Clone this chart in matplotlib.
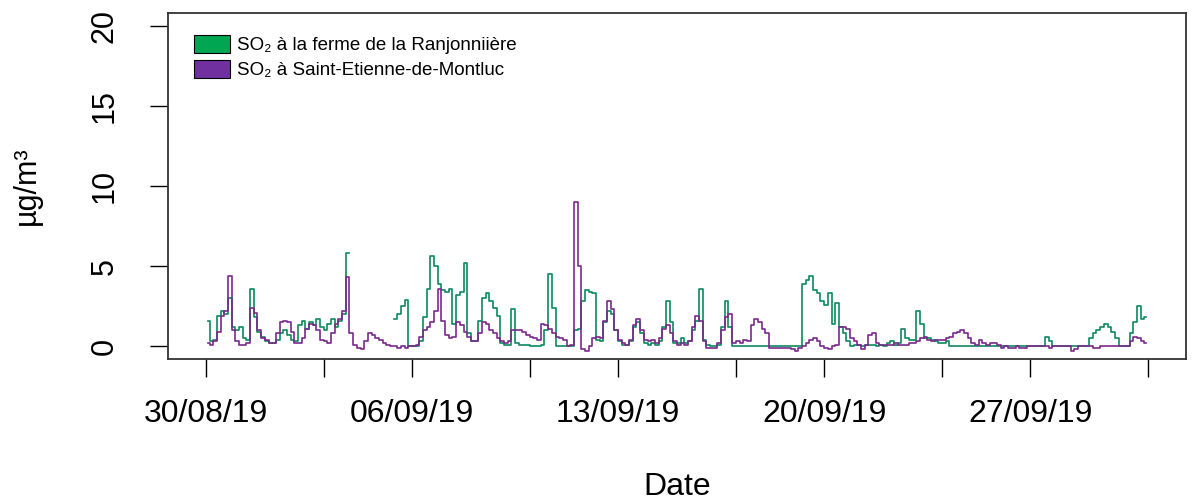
import numpy as np
import pandas as pd
import matplotlib
matplotlib.use('Agg')
import matplotlib.pyplot as plt
import matplotlib.dates as mdates
from matplotlib.patches import Patch

nan = np.nan

# 3-hourly SO2 values (ug/m3), 30/08/19 00:00 -> 01/10/19 00:00, one row per day
ranjonniere = [
    1.6, 0.3, 0.4, 1.9, 2.2, 2.0, 3.0, 1.2,
    1.0, 1.2, 0.5, 0.4, 3.6, 1.8, 0.9, 0.6,
    0.3, 0.2, 0.2, 0.4, 0.8, 1.0, 0.7, 0.4,
    0.3, 1.3, 1.6, 1.1, 1.5, 1.3, 1.7, 1.2,
    1.0, 1.4, 1.7, 1.2, 1.6, 2.0, 5.8, nan,
    nan, nan, nan, nan, nan, nan, nan, nan,
    nan, nan, nan, 1.7, 2.0, 2.5, 2.9, 0.0,
    0.0, 0.0, 0.3, 1.8, 3.6, 5.6, 5.0, 3.9,
    3.5, 3.4, 3.6, 1.4, 3.2, 3.4, 5.2, 0.8,
    0.3, 0.3, 1.6, 3.0, 3.3, 2.8, 2.4, 1.9,
    0.2, 0.1, 0.1, 2.3, 0.2, 0.1, 0.1, 0.1,
    0.0, 0.0, 0.0, 0.1, 1.0, 4.5, 2.4, 0.0,
    0.0, 0.0, 0.0, 0.0, 1.0, 1.1, 2.8, 3.5,
    3.4, 3.3, 0.4, 0.3, 1.5, 2.2, 2.0, 1.0,
    0.3, 0.1, 0.1, 0.3, 1.2, 1.5, 0.8, 0.2,
    0.1, 0.2, 0.1, 0.3, 1.2, 2.8, 1.5, 0.2,
    0.2, 0.5, 0.2, 0.3, 1.0, 1.6, 3.6, 0.4,
    0.1, 0.0, 0.0, 0.1, 1.2, 2.8, 1.2, 0.0,
    0.0, 0.0, 0.0, 0.0, 0.0, 0.0, 0.0, 0.0,
    0.0, 0.0, 0.0, 0.0, 0.0, 0.0, 0.0, 0.0,
    0.0, 0.0, 3.9, 4.1, 4.4, 3.5, 3.3, 2.8,
    2.6, 3.3, 1.4, 2.7, 1.2, 0.8, 0.3, 0.0,
    0.1, 0.1, 0.0, 0.1, 0.1, 0.1, 0.0, 0.1,
    0.0, 0.2, 0.3, 0.1, 0.2, 1.1, 0.5, 0.4,
    0.4, 2.2, 1.4, 0.5, 0.5, 0.4, 0.3, 0.2,
    0.2, 0.3, 0.0, 0.0, 0.0, 0.0, 0.0, 0.0,
    0.0, 0.0, 0.0, 0.0, 0.0, 0.0, 0.0, 0.0,
    0.0, 0.0, 0.0, 0.0, 0.0, 0.0, 0.0, 0.0,
    0.0, 0.0, 0.0, 0.0, 0.6, 0.3, 0.0, 0.0,
    0.0, 0.0, 0.0, 0.0, 0.0, 0.0, 0.0, 0.0,
    0.5, 0.8, 1.0, 1.2, 1.4, 1.2, 0.9, 0.5,
    0.0, 0.0, 0.0, 0.8, 1.5, 2.5, 1.7, 1.8,
]

montluc = [
    0.2, 0.1, 0.3, 0.9, 1.9, 2.2, 4.4, 1.0,
    0.3, 0.1, 0.1, 0.2, 2.4, 2.1, 1.0, 0.5,
    0.4, 0.2, 0.2, 0.8, 1.5, 1.6, 1.5, 0.9,
    0.2, 0.2, 0.5, 1.1, 1.4, 1.3, 1.0, 0.4,
    0.3, 0.2, 0.8, 1.4, 1.7, 2.2, 4.3, 0.8,
    0.1, -0.1, -0.2, 0.3, 0.8, 0.7, 0.5, 0.4,
    0.2, 0.1, 0.0, 0.0, -0.1, 0.0, -0.1, 0.0,
    0.0, 0.1, 0.6, 1.0, 1.2, 1.5, 2.2, 3.6,
    1.6, 0.7, 0.5, 0.6, 1.5, 1.3, 0.9, 0.6,
    0.3, 0.3, 0.8, 1.5, 1.4, 1.0, 0.8, 0.5,
    0.3, 0.2, 0.3, 1.0, 1.0, 1.0, 0.9, 0.7,
    0.6, 0.5, 0.4, 1.4, 1.3, 1.1, 0.8, 0.6,
    0.5, 0.4, 0.0, 0.1, 9.0, 5.0, -0.2, -0.3,
    0.0, 0.5, 0.6, 0.5, 1.6, 2.8, 2.3, 1.0,
    0.4, 0.2, 0.1, 0.4, 1.3, 1.7, 1.0, 0.4,
    0.3, 0.4, 0.2, 0.5, 1.1, 1.3, 0.8, 0.3,
    0.1, 0.2, 0.1, 0.3, 1.2, 1.9, 1.6, 0.3,
    -0.1, -0.1, -0.1, 0.2, 1.0, 1.8, 2.0, 0.2,
    0.3, 0.2, 0.4, 0.3, 1.3, 1.7, 1.5, 1.1,
    0.8, -0.1, -0.1, -0.1, -0.1, -0.1, -0.1, -0.2,
    -0.3, -0.1, 0.0, 0.2, 0.4, 0.5, 0.3, 0.0,
    -0.1, -0.2, 0.0, 0.1, 1.2, 1.2, 1.1, 0.5,
    0.3, 0.1, -0.2, 0.1, 0.7, 0.8, 0.2, 0.1,
    0.1, 0.1, 0.1, 0.2, 0.1, 0.1, 0.1, 0.2,
    0.2, 0.3, 0.5, 0.6, 0.4, 0.3, 0.4, 0.4,
    0.4, 0.5, 0.6, 0.8, 0.9, 1.0, 0.8, 0.5,
    0.2, 0.1, 0.4, 0.2, 0.1, 0.2, 0.2, 0.1,
    -0.1, 0.0, -0.1, -0.1, 0.0, -0.1, -0.1, 0.0,
    0.0, 0.0, 0.0, 0.0, 0.0, -0.1, 0.0, 0.0,
    0.0, 0.0, 0.0, -0.3, -0.2, 0.0, 0.0, 0.0,
    0.0, -0.1, -0.1, 0.0, 0.0, 0.0, 0.0, 0.0,
    0.0, 0.0, 0.0, 0.3, 0.6, 0.5, 0.3, 0.2,
]

tick_dates = ['2019-08-30', '2019-09-03', '2019-09-06', '2019-09-10', '2019-09-13',
              '2019-09-17', '2019-09-20', '2019-09-24', '2019-09-27', '2019-10-01']
tick_labels = ['30/08/19', '', '06/09/19', '', '13/09/19',
               '', '20/09/19', '', '27/09/19', '']
y_ticks = [0, 5, 10, 15, 20]
legend_labels = ['SO₂ à la ferme de la Ranjonniière', 'SO₂ à Saint-Etienne-de-Montluc']

plt.rcParams['font.family'] = ['Liberation Sans', 'DejaVu Sans']

times = pd.date_range('2019-08-30 01:30', periods=len(ranjonniere), freq='3h')

fig = plt.figure(figsize=(11.93, 5.03), dpi=100)
ax = fig.add_axes([0.1408, 0.2863, 0.8533, 0.6879])

ax.plot(times, ranjonniere, color='#0B8A5F', lw=1.2, drawstyle='steps-mid')
ax.plot(times, montluc, color='#7A2A8C', lw=1.2, drawstyle='steps-mid')

t0 = pd.Timestamp('2019-08-30')
ax.set_xlim(t0 - pd.Timedelta(days=1.29), t0 + pd.Timedelta(days=33.29))
ax.set_ylim(-0.8, 20.8)

ax.set_xticks(mdates.date2num(pd.to_datetime(tick_dates).to_pydatetime()))
ax.set_xticklabels(tick_labels, fontsize=23)
ax.set_yticks(y_ticks)
ax.set_yticklabels([str(v) for v in y_ticks], fontsize=22, rotation=90, va='center')

ax.tick_params(axis='both', direction='out', length=13, width=1.0, color='black')
ax.tick_params(axis='x', pad=16)
ax.tick_params(axis='y', pad=22)
for s in ax.spines.values():
    s.set_linewidth(1.3)
    s.set_color('#333333')

ax.set_xlabel('Date', fontsize=23, labelpad=31)
ax.set_ylabel('µg/m³', fontsize=22, labelpad=34)

handles = [Patch(facecolor='#00A651', edgecolor='black', lw=0.8),
           Patch(facecolor='#7030A0', edgecolor='black', lw=0.8)]
ax.legend(handles, legend_labels, loc='upper left', bbox_to_anchor=(0.0255, 0.936),
          frameon=False, fontsize=13.5, handlelength=1.95, handleheight=1.1,
          handletextpad=0.35, labelspacing=0.28, borderpad=0, borderaxespad=0)

fig.savefig('out.png', dpi=100)
